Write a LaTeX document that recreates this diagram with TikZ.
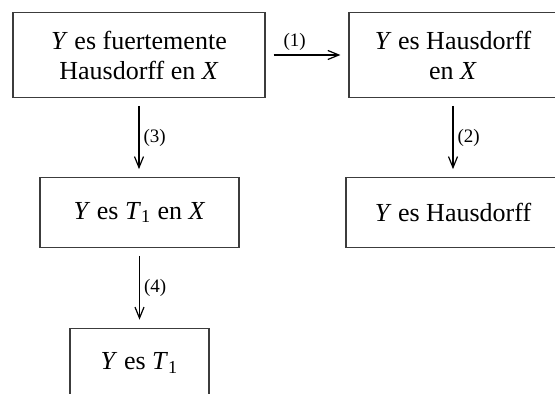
\documentclass[tikz,border=0pt]{standalone}
\usepackage{fontspec}
\setmainfont{Liberation Serif}
\usepackage{tikz}
\usetikzlibrary{
  arrows.meta,
  positioning
}
\definecolor{hausgray}{RGB}{60,60,60}
\tikzset{
  propbox/.style={
    rectangle, draw=hausgray, line width=0.6pt, inner sep=0pt,
    align=center, font=\fontsize{13}{15}\selectfont
  },
  implies/.style={-{Straight Barb[length=5.5pt,width=4.5pt]}, line width=0.6pt,
    shorten <=4pt, shorten >=4pt},
  ilabel/.style={font=\fontsize{9.5}{11}\selectfont, inner sep=2pt}
}

\begin{document}
\begin{tikzpicture}[x=0.5pt,y=-0.5pt]
\useasboundingbox (0,0) rectangle (555,394);
\clip (0,0) rectangle (555,394);
\node[propbox, minimum width=126pt, minimum height=42.25pt] (fuerte) at (139,55)
  {\textit{Y} es fuertemente\\Hausdorff en \textit{X}};
\node[propbox, minimum width=104pt, minimum height=42.25pt] (hausX)  at (453,55)
  {\textit{Y} es Hausdorff\\en \textit{X}};
\node[propbox, minimum width=99.5pt, minimum height=34.75pt] (tunoX) at (139.5,212.5)
  {\textit{Y} es \textit{T}\textsubscript{1} en \textit{X}};
\node[propbox, minimum width=107pt, minimum height=34.75pt] (haus)   at (453,212.5)
  {\textit{Y} es Hausdorff};
\node[propbox, minimum width=69.5pt, minimum height=34.75pt] (tuno)  at (139.5,363)
  {\textit{Y} es \textit{T}\textsubscript{1}};

\draw[implies] (fuerte.east) -- node[ilabel,above,pos=0.35]{(1)} (hausX.west);
\draw[implies] (hausX.south) -- node[ilabel,right]{(2)} (hausX.south |- haus.north);
\draw[implies] (fuerte.south) -- node[ilabel,right]{(3)} (fuerte.south |- tunoX.north);
\draw[implies] (tunoX.south) -- node[ilabel,right]{(4)} (tunoX.south |- tuno.north);
\end{tikzpicture}
\end{document}
